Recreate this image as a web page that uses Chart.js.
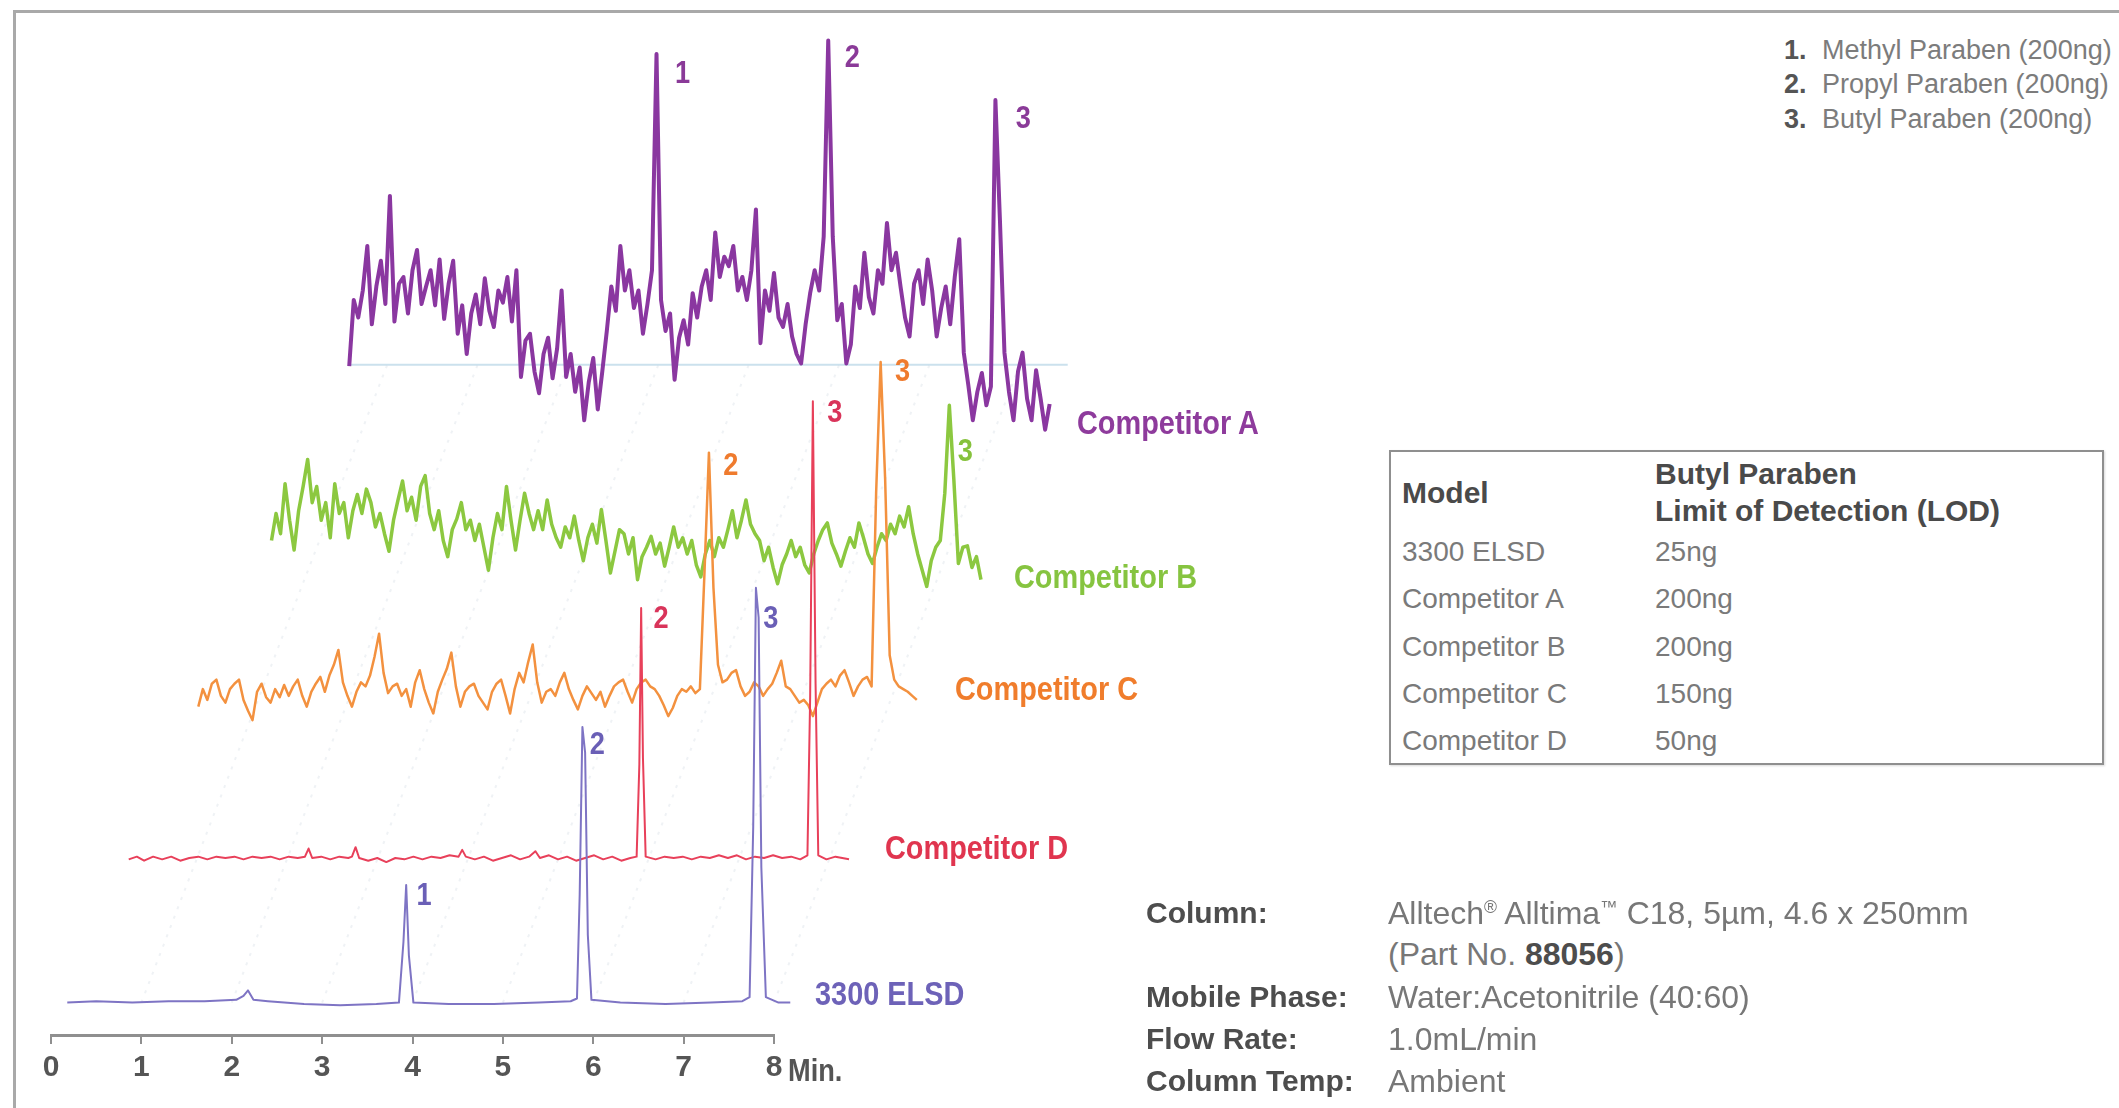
<!DOCTYPE html>
<html>
<head>
<meta charset="utf-8">
<title>Butyl Paraben LOD - 3300 ELSD vs competitors</title>
<script src="https://cdn.jsdelivr.net/npm/chart.js@4.4.1/dist/chart.umd.min.js"></script>
<style>
  html, body { margin: 0; padding: 0; background: #fff; }
  #page { position: relative; width: 2119px; height: 1108px; overflow: hidden; background: #fff;
          font-family: "Liberation Sans", Arial, sans-serif; }
  #frame { position: absolute; left: 13px; top: 10px; width: 2130px; height: 1120px;
           border-left: 3px solid #a9a9a9; border-top: 3px solid #a9a9a9; }
  #chart-display { position: absolute; left: 0; top: 0; }
  .txt { position: absolute; white-space: nowrap; line-height: 1; transform: translateY(-50%); }
  /* condensed bold, like the original artwork */
  .trace-name { font-weight: bold; font-size: 34px; transform-origin: left center;
                transform: translateY(-50%) scaleX(0.85); }
  .legend { font-size: 27px; color: #7c7c7c; }
  .legend b { color: #555; display: inline-block; width: 38px; }
  #lod { position: absolute; left: 1389px; top: 450px; width: 711px; height: 311px;
         border: 2px solid #8f8f8f; box-shadow: 1px 1px 2px rgba(0,0,0,0.15); }
  #lod .txt { font-size: 28px; color: #7a7a7a; }
  #lod .hd { font-weight: bold; font-size: 30px; color: #4a4a4a; }
  .cond-l { font-weight: bold; font-size: 30px; color: #4d4d4d; }
  .cond-v { font-size: 32px; color: #777; }
  .cond-v b { color: #4d4d4d; }
  sup { font-size: 55%; vertical-align: 0.6em; line-height: 0; }
</style>
</head>
<body>
<div id="page">
  <div id="frame"></div>
  <canvas id="chart-display" width="1150" height="1108"></canvas>

  <div class="txt trace-name" style="left:1077px;top:422px;color:#8e3b9c">Competitor A</div>
  <div class="txt trace-name" style="left:1014px;top:576px;color:#86c440">Competitor B</div>
  <div class="txt trace-name" style="left:955px;top:688px;color:#f07d2c">Competitor C</div>
  <div class="txt trace-name" style="left:885px;top:847px;color:#e0354f">Competitor D</div>
  <div class="txt trace-name" style="left:815px;top:993px;color:#6d62b8">3300 ELSD</div>
  <div class="txt trace-name" style="left:788px;top:1070px;font-size:32px;color:#555">Min.</div>

  <div class="txt legend" style="left:1784px;top:50px"><b>1.</b>Methyl Paraben (200ng)</div>
  <div class="txt legend" style="left:1784px;top:84px"><b>2.</b>Propyl Paraben (200ng)</div>
  <div class="txt legend" style="left:1784px;top:119px"><b>3.</b>Butyl Paraben (200ng)</div>

  <div id="lod">
    <div class="txt hd" style="left:11px;top:41px">Model</div>
    <div class="txt hd" style="left:264px;top:22px">Butyl Paraben</div>
    <div class="txt hd" style="left:264px;top:59px">Limit of Detection (LOD)</div>
    <div class="txt" style="left:11px;top:100px">3300 ELSD</div>
    <div class="txt" style="left:264px;top:100px">25ng</div>
    <div class="txt" style="left:11px;top:147px">Competitor A</div>
    <div class="txt" style="left:264px;top:147px">200ng</div>
    <div class="txt" style="left:11px;top:195px">Competitor B</div>
    <div class="txt" style="left:264px;top:195px">200ng</div>
    <div class="txt" style="left:11px;top:242px">Competitor C</div>
    <div class="txt" style="left:264px;top:242px">150ng</div>
    <div class="txt" style="left:11px;top:289px">Competitor D</div>
    <div class="txt" style="left:264px;top:289px">50ng</div>
  </div>

  <div class="txt cond-l" style="left:1146px;top:913px">Column:</div>
  <div class="txt cond-v" style="left:1388px;top:913px">Alltech<sup>®</sup> Alltima<sup>™</sup> C18, 5µm, 4.6 x 250mm</div>
  <div class="txt cond-v" style="left:1388px;top:954px">(Part No. <b>88056</b>)</div>
  <div class="txt cond-l" style="left:1146px;top:997px">Mobile Phase:</div>
  <div class="txt cond-v" style="left:1388px;top:997px">Water:Acetonitrile (40:60)</div>
  <div class="txt cond-l" style="left:1146px;top:1039px">Flow Rate:</div>
  <div class="txt cond-v" style="left:1388px;top:1039px">1.0mL/min</div>
  <div class="txt cond-l" style="left:1146px;top:1081px">Column Temp:</div>
  <div class="txt cond-v" style="left:1388px;top:1081px">Ambient</div>
</div>

<script>
// waterfall layout: every trace is shifted right (minutes) and lifted (response units)
var traceNames = ['3300 ELSD', 'Competitor D', 'Competitor C', 'Competitor B', 'Competitor A'];
var traceShift = [0, 0.63, 1.38, 2.12, 2.72];
var traceLift = [24, 130, 251, 361, 496];
var axisTicks = [0, 1, 2, 3, 4, 5, 6, 7, 8];

// 3300 ELSD - clean baseline, only key points
var elsdTime = [0.18, 0.5, 0.9, 1.3, 1.7, 2.05, 2.13, 2.18, 2.24, 2.4,
    2.8, 3.2, 3.6, 3.85, 3.90, 3.93, 3.96, 4.01, 4.4, 4.9,
    5.4, 5.75, 5.82, 5.85, 5.88, 5.91, 5.94, 5.98, 6.3, 6.8,
    7.3, 7.65, 7.73, 7.77, 7.80, 7.83, 7.86, 7.91, 8.05, 8.18];
var elsdSignal = [0, 1, 0, 1, 1, 2, 5, 9, 2, 1,
    -1, -2, -1, 0, 45, 87, 35, 0, -1, -1,
    0, 1, 3, 80, 204, 185, 50, 2, 0, -1,
    0, 1, 4, 130, 307, 285, 100, 4, 0, 0];

// Competitor D - small jitter, peaks 2 and 3 only
var compDTime = [0.23, 0.32, 0.40, 0.50, 0.60, 0.70, 0.80, 0.90, 1.00, 1.10,
    1.20, 1.30, 1.40, 1.50, 1.60, 1.70, 1.80, 1.90, 2.00, 2.10,
    2.18, 2.22, 2.26, 2.36, 2.46, 2.56, 2.66, 2.70, 2.74, 2.78,
    2.88, 2.98, 3.08, 3.18, 3.28, 3.38, 3.48, 3.58, 3.68, 3.78,
    3.88, 3.92, 3.96, 4.06, 4.16, 4.26, 4.36, 4.46, 4.56, 4.66,
    4.73, 4.78, 4.88, 4.98, 5.08, 5.18, 5.28, 5.38, 5.48, 5.58,
    5.68, 5.78, 5.85, 5.88, 5.90, 5.92, 5.95, 6.06, 6.16, 6.26,
    6.36, 6.46, 6.56, 6.66, 6.76, 6.86, 6.96, 7.06, 7.16, 7.26,
    7.36, 7.46, 7.56, 7.66, 7.74, 7.77, 7.80, 7.83, 7.86, 7.95,
    8.05, 8.20];
var compDSignal = [0, 2, -1, 2, 0, 2, -1, 1, 2, 0,
    2, 1, 2, 0, 2, 1, 2, 0, 2, 1,
    2, 8, 1, 2, 0, 2, 1, 2, 9, 1,
    -1, 1, -2, 1, 0, 2, 0, 2, 1, 3,
    2, 7, 2, 0, 2, -1, 1, 3, 0, 2,
    6, 1, 3, 0, 2, -1, 1, 3, 0, 2,
    -1, 1, 2, 70, 186, 75, 2, 0, 2, 1,
    2, 0, 2, 1, 3, 1, 3, 0, 2, 1,
    3, 1, 2, 0, 3, 120, 339, 130, 3, 0,
    2, 0];

// noisy detectors, one reading every 0.05 min
var sampleStep = 0.05;

var compCStart = 0.25;
var compCSignal = [-8, 5, -3, 9, 12, 0, -5, 5, 9, 12,
    -3, -11, -18, 3, 9, -1, -5, 5, -1, 8,
    0, 7, 12, 0, -8, 3, 9, 14, 3, 15,
    23, 34, 10, 0, -8, 3, 10, 7, 15, 29,
    46, 17, 2, 7, 9, 0, 5, -8, 10, 19,
    5, -5, -13, 3, 12, 20, 32, 7, -8, 3,
    7, 9, 0, -5, -10, 3, 9, 12, 0, -13,
    5, 17, 10, 25, 38, 10, -5, 3, 5, 0,
    10, 17, 5, -3, -10, 0, 7, 2, -3, 3,
    -8, 0, 7, 10, 12, 3, -5, 5, 10, 12,
    7, 5, 0, -7, -15, -9, 0, 5, 3, 7,
    2, 5, 90, 180, 80, 23, 10, 12, 17, 19,
    7, 0, 3, 10, 7, 0, 5, 9, 17, 26,
    7, 5, 0, -5, -3, -7, -15, -5, 5, 9,
    12, 7, 15, 19, 10, 0, 7, 12, 14, 7,
    150, 247, 160, 30, 12, 7, 5, 3, 0, -3];

var compBStart = 0.32;
var compBSignal = [5, 25, 10, 47, 20, -2, 27, 45, 65, 33,
    45, 20, 33, 7, 47, 25, 33, 7, 27, 39,
    25, 43, 33, 15, 25, 10, -3, 20, 35, 49,
    27, 37, 20, 45, 53, 25, 13, 27, 5, -7,
    13, 21, 33, 13, 20, 5, 17, 0, -17, 7,
    25, 13, 45, 20, -2, 20, 40, 25, 13, 27,
    13, 35, 17, 7, 0, 15, 7, 23, 5, -10,
    7, 17, 3, 28, 5, -19, -3, 13, 10, -5,
    7, -24, -7, 0, 8, -5, 3, -14, 0, 15,
    0, 7, -5, 5, -13, -22, -5, 5, -7, 7,
    0, 13, 27, 7, 20, 35, 17, 10, 5, -10,
    0, -15, -27, -13, -5, 5, -7, 0, -13, -19,
    -5, 5, 13, 18, 3, -5, -14, -3, 7, 0,
    18, 7, -5, -12, 0, 10, 5, 17, 10, 23,
    15, 30, 10, -5, -17, -29, -10, 0, 5, 40,
    105, 50, -12, 0, 1, -15, -7, -24];

var compAStart = 0.58;
var compASignal = [-1, 48, 35, 55, 88, 30, 58, 77, 45, 125,
    32, 60, 65, 38, 70, 85, 45, 58, 70, 44,
    78, 34, 60, 77, 23, 44, 8, 38, 52, 30,
    64, 40, 28, 55, 46, 65, 32, 70, -9, 18,
    23, -5, -21, 8, 20, -10, 12, 55, -9, 8,
    -20, -2, -41, -13, 5, -33, -5, 25, 58, 40,
    88, 55, 70, 42, 55, 23, 45, 70, 230, 48,
    25, 38, -11, 20, 33, 15, 53, 35, 58, 70,
    48, 98, 65, 80, 73, 88, 55, 65, 48, 70,
    115, 16, 55, 40, 68, 35, 28, 45, 21, 8,
    1, 30, 53, 70, 55, 95, 240, 95, 33, 45,
    1, 15, 58, 42, 83, 50, 38, 70, 60, 105,
    70, 83, 58, 35, 21, 60, 70, 45, 78, 55,
    21, 42, 58, 30, 65, 93, 9, -15, -41, -20,
    -6, -30, -16, 196, 107, 9, -20, -41, -5, 9,
    -25, -41, -4, -25, -48, -29];

// faint floor line under Competitor A
var compAFloorTime = [0.58, 8.53];
var compAFloorSignal = [0, 0];

// faint perspective guides, one per whole minute, front trace to back trace
var guideTimes = [1, 2, 3, 4, 5, 6, 7, 8];

// numbered peaks: 1 Methyl, 2 Propyl, 3 Butyl paraben
var peakLabels = [
    { trace: 0, time: 3.93, text: '1' }, { trace: 0, time: 5.88, text: '2' }, { trace: 0, time: 7.80, text: '3' },
    { trace: 1, time: 5.90, text: '2' }, { trace: 1, time: 7.80, text: '3' },
    { trace: 2, time: 5.90, text: '2' }, { trace: 2, time: 7.80, text: '3' },
    { trace: 3, time: 7.82, text: '3' },
    { trace: 4, time: 3.98, text: '1' }, { trace: 4, time: 5.88, text: '2' }, { trace: 4, time: 7.73, text: '3' }
];
// label placement relative to the peak top, px
var peakLabelNudge = [[18, 11], [15, 18], [15, 31], [20, 11], [22, 12], [22, 14], [22, 10], [16, 47], [26, 20], [24, 18], [28, 19]];

var lineColors = ['#7e74c4', '#e8405a', '#f3913f', '#8cc840', '#8a37a0'];
var labelColors = ['#6a5fb6', '#d9345a', '#ef7b2e', '#86c23c', '#8a3a98'];
var lineWidths = [2, 2, 2.5, 3.5, 4];

var labelFont = '"Liberation Sans", Arial, sans-serif';

function sampleTimes(start, count) {
    var times = [];
    for (var k = 0; k < count; k++) {
        times.push(start + k * sampleStep);
    }
    return times;
}

function buildTrace(times, signal, i) {
    return times.map(function(t, k) {
        return { x: t + traceShift[i], y: signal[k] + traceLift[i] };
    });
}

var traceData = [
    buildTrace(elsdTime, elsdSignal, 0),
    buildTrace(compDTime, compDSignal, 1),
    buildTrace(sampleTimes(compCStart, compCSignal.length), compCSignal, 2),
    buildTrace(sampleTimes(compBStart, compBSignal.length), compBSignal, 3),
    buildTrace(sampleTimes(compAStart, compASignal.length), compASignal, 4)
];

var datasets = traceData.map(function(data, i) {
    return {
        label: traceNames[i],
        data: data,
        borderColor: lineColors[i],
        borderWidth: lineWidths[i],
        pointRadius: 0,
        tension: 0,
        borderJoinStyle: 'round',
        clip: false
    };
});
// drawn last = underneath everything
datasets.push({
    label: 'floor',
    data: buildTrace(compAFloorTime, compAFloorSignal, 4),
    borderColor: 'rgba(190, 218, 232, 0.8)',
    borderWidth: 2,
    pointRadius: 0,
    clip: false
});
guideTimes.forEach(function(t) {
    datasets.push({
        label: 'guide ' + t,
        data: [
            { x: t + traceShift[0], y: traceLift[0] },
            { x: t + traceShift[4], y: traceLift[4] }
        ],
        borderColor: 'rgba(175, 190, 205, 0.2)',
        borderWidth: 2,
        borderDash: [3, 7],
        pointRadius: 0,
        clip: false
    });
});

var peakLabelPlugin = {
    id: 'peakLabels',
    afterDatasetsDraw: function(chart) {
        var ctx = chart.ctx;
        ctx.save();
        ctx.font = 'bold 32px ' + labelFont;
        ctx.textBaseline = 'middle';
        peakLabels.forEach(function(p, n) {
            var pts = chart.data.datasets[p.trace].data;
            var meta = chart.getDatasetMeta(p.trace);
            var best = -1;
            for (var i = 0; i < pts.length; i++) {
                if (Math.abs(pts[i].x - traceShift[p.trace] - p.time) < 0.04) {
                    if (best < 0 || pts[i].y > pts[best].y) best = i;
                }
            }
            if (best < 0) return;
            var el = meta.data[best];
            ctx.save();
            ctx.translate(el.x + peakLabelNudge[n][0], el.y + peakLabelNudge[n][1]);
            ctx.scale(0.85, 1);
            ctx.textAlign = 'center';
            ctx.fillStyle = labelColors[p.trace];
            ctx.fillText(p.text, 0, 0);
            ctx.restore();
        });
        ctx.restore();
    }
};

var ctx = document.getElementById('chart-display');

new Chart(ctx, {
    type: 'line',
    data: { datasets: datasets },
    options: {
        responsive: false,
        animation: false,
        events: [],
        layout: { padding: { left: 51, right: 376, top: 0, bottom: 23 } },
        plugins: { legend: { display: false }, tooltip: { enabled: false } },
        scales: {
            x: {
                type: 'linear',
                bounds: 'data',
                // axis shows 0-8 min; the shifted traces run on past it
                afterDataLimits: function(scale) {
                    scale.min = axisTicks[0];
                    scale.max = axisTicks[axisTicks.length - 1];
                },
                afterBuildTicks: function(scale) {
                    scale.ticks = axisTicks.map(function(v) { return { value: v }; });
                },
                afterFit: function(scale) { scale.height = 50; },
                border: { display: true, color: '#8f8f8f', width: 3 },
                grid: { drawOnChartArea: false, drawTicks: true, tickLength: 9, color: '#8f8f8f', lineWidth: 2 },
                ticks: {
                    color: '#555',
                    padding: 6,
                    maxRotation: 0,
                    autoSkip: false,
                    font: { family: labelFont, size: 30, weight: 'bold' }
                }
            },
            y: { type: 'linear', min: 0, max: 766, display: false }
        }
    },
    plugins: [peakLabelPlugin]
});
</script>
</body>
</html>
